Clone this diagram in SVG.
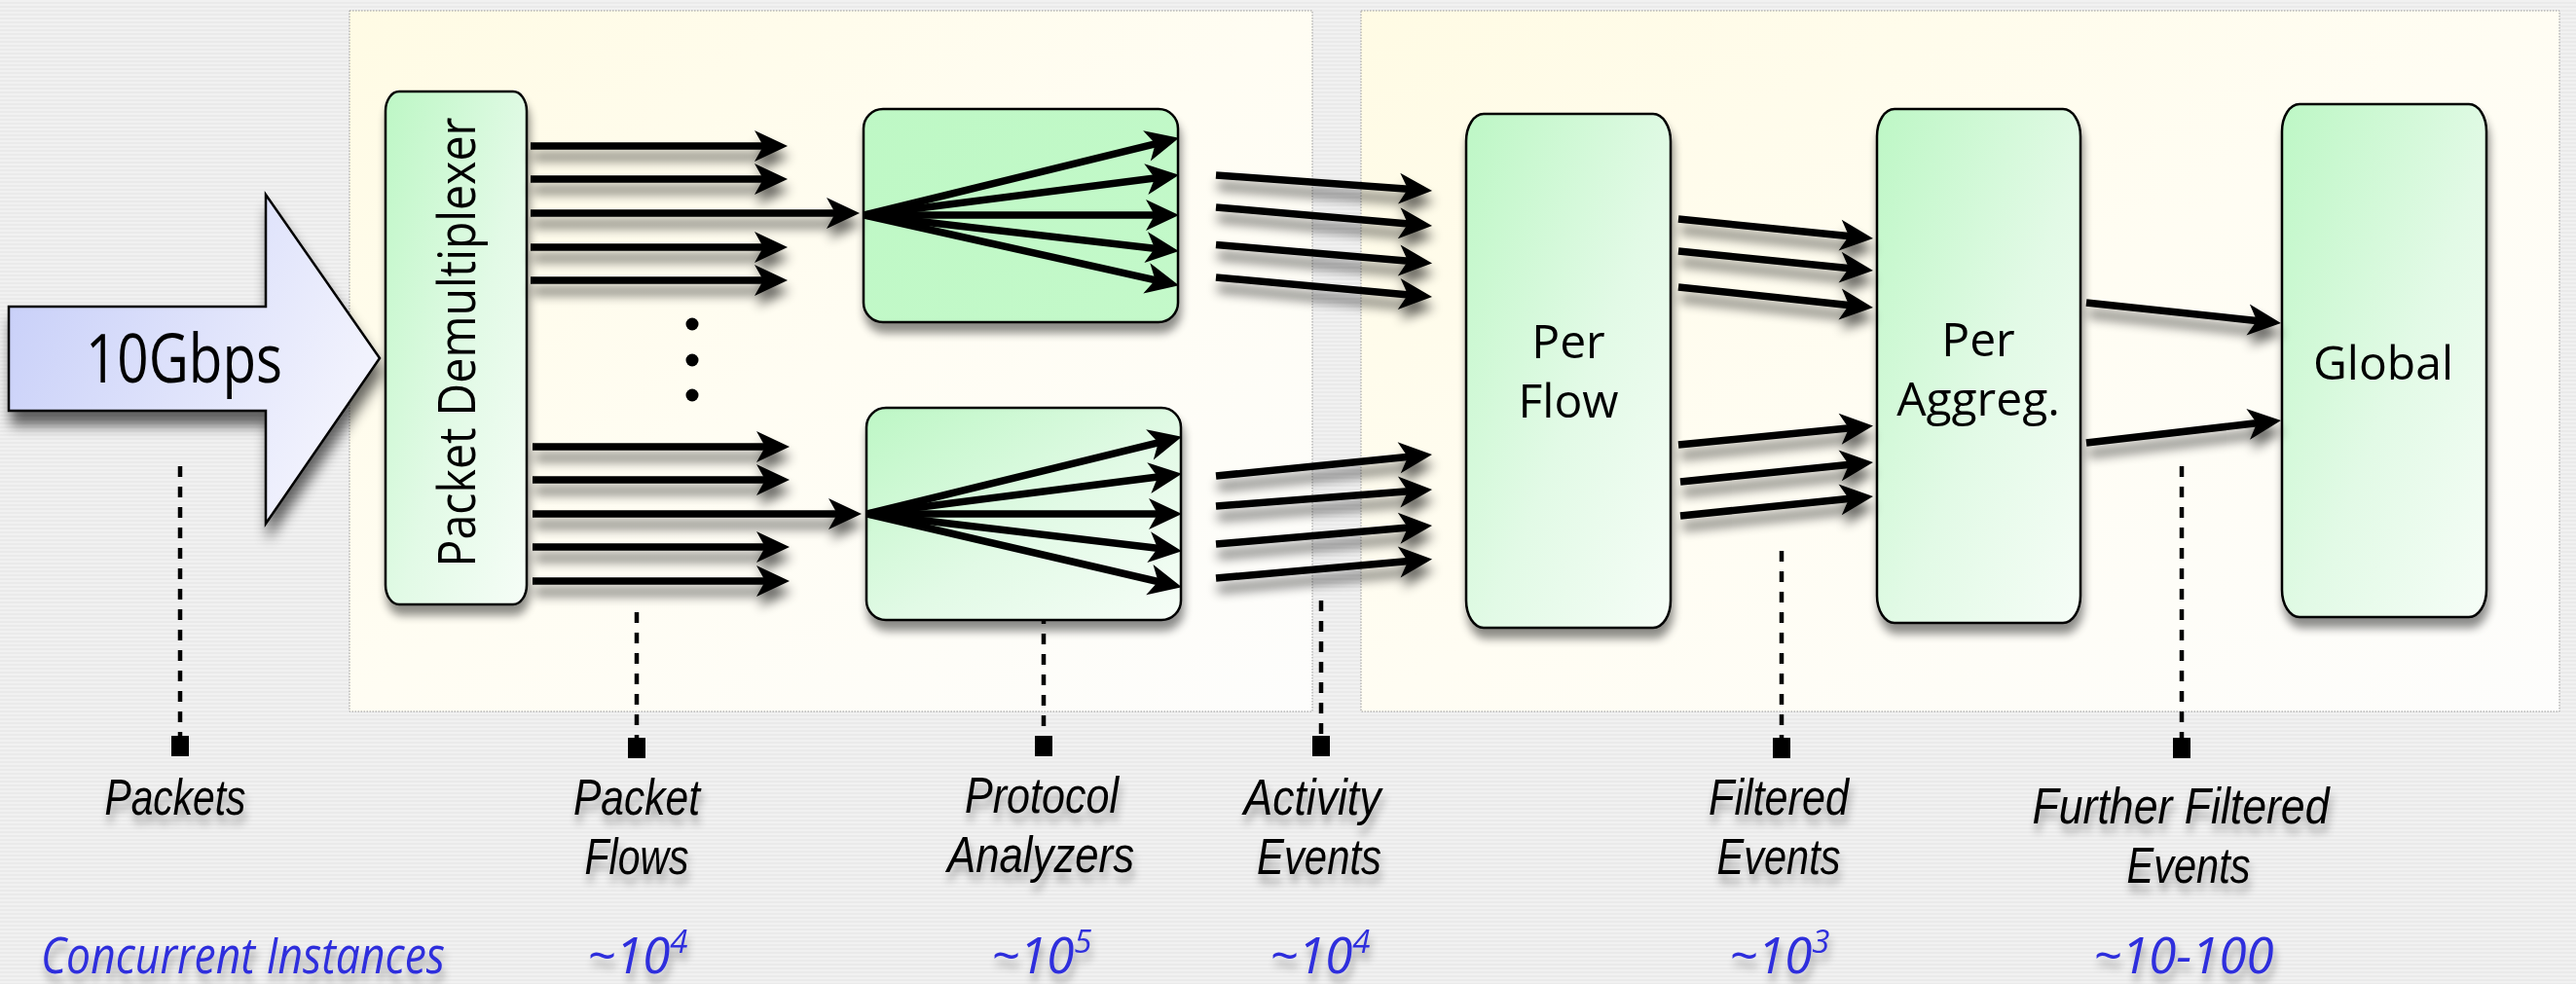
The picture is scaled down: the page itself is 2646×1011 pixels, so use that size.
<svg xmlns="http://www.w3.org/2000/svg" width="2646" height="1011" viewBox="0 0 2646 1011">
<defs>
<pattern id="stripes" width="8" height="4" patternUnits="userSpaceOnUse"><rect width="8" height="4" fill="#f1f1f1"/><rect y="2" width="8" height="2" fill="#eaeaea"/></pattern>
<linearGradient id="panelG" x1="0" y1="0" x2="1" y2="1"><stop offset="0" stop-color="#fffbe4"/><stop offset="0.5" stop-color="#fffdf3"/><stop offset="1" stop-color="#fdfdfc"/></linearGradient>
<linearGradient id="nodeG" x1="0" y1="0" x2="1" y2="1"><stop offset="0" stop-color="#bdf7c5"/><stop offset="0.55" stop-color="#e2fae6"/><stop offset="1" stop-color="#f6fdf7"/></linearGradient>
<linearGradient id="nodeG2" x1="0" y1="0" x2="1" y2="1"><stop offset="0" stop-color="#bef8c5"/><stop offset="1" stop-color="#c4f9ca"/></linearGradient>
<linearGradient id="blueG" x1="0" y1="0" x2="1" y2="0.4"><stop offset="0" stop-color="#c4ccf8"/><stop offset="1" stop-color="#f1f2fd"/></linearGradient>
<filter id="sh" x="-20%" y="-20%" width="140%" height="160%"><feGaussianBlur in="SourceAlpha" stdDeviation="5"/><feOffset dx="2" dy="10"/><feComponentTransfer><feFuncA type="linear" slope="0.45"/></feComponentTransfer><feMerge><feMergeNode/><feMergeNode in="SourceGraphic"/></feMerge></filter>
<filter id="shAr" x="-20%" y="-20%" width="140%" height="160%"><feGaussianBlur in="SourceAlpha" stdDeviation="6"/><feOffset dx="2" dy="11"/><feComponentTransfer><feFuncA type="linear" slope="0.6"/></feComponentTransfer><feMerge><feMergeNode/><feMergeNode in="SourceGraphic"/></feMerge></filter>
<filter id="shBig" x="-20%" y="-20%" width="140%" height="160%"><feGaussianBlur in="SourceAlpha" stdDeviation="7"/><feOffset dx="3" dy="14"/><feComponentTransfer><feFuncA type="linear" slope="0.6"/></feComponentTransfer><feMerge><feMergeNode/><feMergeNode in="SourceGraphic"/></feMerge></filter>
<filter id="shTxt" x="-20%" y="-30%" width="140%" height="180%"><feGaussianBlur in="SourceAlpha" stdDeviation="4"/><feOffset dx="2" dy="9"/><feComponentTransfer><feFuncA type="linear" slope="0.35"/></feComponentTransfer><feMerge><feMergeNode/><feMergeNode in="SourceGraphic"/></feMerge></filter>
<marker id="ah" markerUnits="userSpaceOnUse" orient="auto" refX="0" refY="0" markerWidth="40" markerHeight="40" overflow="visible"><path d="M21,0 L-13,-16 L-4,0 L-13,16 Z" fill="#000"/></marker>
<style>
.box{stroke:#000;stroke-width:2.5;fill:url(#nodeG)}
.nt{font-family:'Open Sans','Liberation Sans',sans-serif;font-size:48px;fill:#000;text-anchor:middle}
.lbl{font-family:'Liberation Sans',Arial,sans-serif;font-style:italic;font-size:52px;fill:#000;text-anchor:middle}
.cnt{font-family:'Open Sans','Liberation Sans',sans-serif;font-style:italic;font-size:51px;fill:#2f2fdc}
.ar{stroke:#000;stroke-width:7.5;marker-end:url(#ah);fill:none}
.dash{stroke:#000;stroke-width:4.5;stroke-dasharray:11 10}
.mk{fill:#000}
.panel{stroke:#9a9a9a;stroke-width:1;stroke-dasharray:1.5 1.5;fill:url(#panelG)}
</style>
</defs>
<rect width="2646" height="1011" fill="url(#stripes)"/>
<g id="panels">
<rect class="panel" x="359" y="11" width="989" height="720"/>
<rect class="panel" x="1398" y="11" width="1231" height="720"/>
</g>
<g id="annotations">
<line class="dash" x1="185" y1="479" x2="185" y2="756"/><rect class="mk" x="176" y="756" width="18" height="21"/>
<line class="dash" x1="654" y1="629" x2="654" y2="758"/><rect class="mk" x="645" y="758" width="18" height="21"/>
<line class="dash" x1="1072" y1="609" x2="1072" y2="756"/><rect class="mk" x="1063" y="756" width="18" height="21"/>
<line class="dash" x1="1357" y1="617" x2="1357" y2="756"/><rect class="mk" x="1348" y="756" width="18" height="21"/>
<line class="dash" x1="1830" y1="566" x2="1830" y2="758"/><rect class="mk" x="1821" y="758" width="18" height="21"/>
<line class="dash" x1="2241" y1="479" x2="2241" y2="758"/><rect class="mk" x="2232" y="758" width="18" height="21"/>
</g>
<g id="input" filter="url(#shBig)">
<polygon points="9,315 273,315 273,200 390,368 273,538 273,422 9,422" fill="url(#blueG)" stroke="#000" stroke-width="2.5"/>
<text x="189" y="393" font-family="'Open Sans','Liberation Sans',sans-serif" font-size="69" text-anchor="middle" textLength="202" lengthAdjust="spacingAndGlyphs">10Gbps</text>
</g>
<g id="demux" filter="url(#sh)">
<rect class="box" x="396" y="94" width="145" height="527" rx="14" ry="20"/>
<text transform="translate(488,351.5) rotate(-90)" x="0" y="0" font-family="'Open Sans','Liberation Sans',sans-serif" font-size="53" text-anchor="middle" textLength="462" lengthAdjust="spacingAndGlyphs">Packet Demultiplexer</text>
</g>
<g id="analyzer1" filter="url(#sh)"><rect class="box" x="887" y="112" width="323" height="219" rx="20" style="fill:url(#nodeG2)"/></g>
<g id="analyzer2" filter="url(#sh)"><rect class="box" x="890" y="419" width="323" height="218" rx="20"/></g>
<g id="perflow" filter="url(#sh)"><rect class="box" x="1506" y="117" width="210" height="528" rx="18" ry="28"/><text class="nt" x="1611" y="368">Per<tspan x="1611" dy="61">Flow</tspan></text></g>
<g id="peraggreg" filter="url(#sh)"><rect class="box" x="1928" y="112" width="209" height="528" rx="18" ry="28"/><text class="nt" x="2032" y="366">Per<tspan x="2032" dy="61">Aggreg.</tspan></text></g>
<g id="global" filter="url(#sh)"><rect class="box" x="2344" y="107" width="210" height="527" rx="18" ry="28"/><text class="nt" x="2448" y="390">Global</text></g>
<g id="dots"><circle cx="711" cy="333" r="6.5"/><circle cx="711" cy="370" r="6.5"/><circle cx="711" cy="406" r="6.5"/></g>
<g id="connectors">
<g filter="url(#shAr)">
<line class="ar" x1="545" y1="150" x2="788" y2="150"/>
<line class="ar" x1="545" y1="184" x2="788" y2="184"/>
<line class="ar" x1="545" y1="219" x2="862" y2="219"/>
<line class="ar" x1="545" y1="254" x2="788" y2="254"/>
<line class="ar" x1="545" y1="288" x2="788" y2="288"/>
<line class="ar" x1="547" y1="459" x2="790" y2="459"/>
<line class="ar" x1="547" y1="493" x2="790" y2="493"/>
<line class="ar" x1="547" y1="528" x2="864" y2="528"/>
<line class="ar" x1="547" y1="562" x2="790" y2="562"/>
<line class="ar" x1="547" y1="597" x2="790" y2="597"/>
<line class="ar" x1="1249" y1="180" x2="1450.1" y2="194.6"/>
<line class="ar" x1="1249" y1="213" x2="1450.1" y2="230.3"/>
<line class="ar" x1="1249" y1="251.5" x2="1450.1" y2="268.6"/>
<line class="ar" x1="1249" y1="285" x2="1450.1" y2="303.2"/>
<line class="ar" x1="1249" y1="489" x2="1450.1" y2="469"/>
<line class="ar" x1="1249" y1="520" x2="1450.1" y2="504.5"/>
<line class="ar" x1="1249" y1="559" x2="1450.1" y2="541.7"/>
<line class="ar" x1="1249" y1="594" x2="1450.1" y2="576.3"/>
<line class="ar" x1="1724" y1="225" x2="1903.1" y2="243"/>
<line class="ar" x1="1724" y1="258" x2="1903.1" y2="276"/>
<line class="ar" x1="1724" y1="295" x2="1903.1" y2="313.9"/>
<line class="ar" x1="1724" y1="457" x2="1903.1" y2="439.5"/>
<line class="ar" x1="1726" y1="495" x2="1903.1" y2="477"/>
<line class="ar" x1="1726" y1="530" x2="1903.1" y2="512"/>
<line class="ar" x1="2143" y1="311" x2="2322.1" y2="329.9"/>
<line class="ar" x1="2143" y1="455" x2="2322.1" y2="434.3"/>
</g>
<g>
<line class="ar" x1="888" y1="221" x2="1190.6" y2="146.8"/>
<line class="ar" x1="888" y1="221" x2="1190.2" y2="182.5"/>
<line class="ar" x1="888" y1="221" x2="1190" y2="221"/>
<line class="ar" x1="888" y1="221" x2="1190.1" y2="255.7"/>
<line class="ar" x1="888" y1="221" x2="1190.5" y2="288.6"/>
<line class="ar" x1="891" y1="528" x2="1193.6" y2="453.8"/>
<line class="ar" x1="891" y1="528" x2="1193.2" y2="489.5"/>
<line class="ar" x1="891" y1="528" x2="1193" y2="528"/>
<line class="ar" x1="891" y1="528" x2="1193.1" y2="563.7"/>
<line class="ar" x1="891" y1="528" x2="1193.5" y2="598.5"/>
</g>
</g>
<g id="labels" filter="url(#shTxt)">
<text class="lbl" x="180" y="837" textLength="145" lengthAdjust="spacingAndGlyphs">Packets</text>
<text class="lbl" x="654" y="837"><tspan x="654" textLength="130" lengthAdjust="spacingAndGlyphs">Packet</tspan><tspan x="654" dy="61" textLength="107" lengthAdjust="spacingAndGlyphs">Flows</tspan></text>
<text class="lbl" x="1070" y="835"><tspan x="1070" textLength="158" lengthAdjust="spacingAndGlyphs">Protocol</tspan><tspan x="1069" dy="61" textLength="192" lengthAdjust="spacingAndGlyphs">Analyzers</tspan></text>
<text class="lbl" x="1348" y="837"><tspan x="1348" textLength="141" lengthAdjust="spacingAndGlyphs">Activity</tspan><tspan x="1355" dy="61" textLength="128" lengthAdjust="spacingAndGlyphs">Events</tspan></text>
<text class="lbl" x="1827" y="837"><tspan x="1827" textLength="144" lengthAdjust="spacingAndGlyphs">Filtered</tspan><tspan x="1827" dy="61" textLength="127" lengthAdjust="spacingAndGlyphs">Events</tspan></text>
<text class="lbl" x="2240" y="846"><tspan x="2240" textLength="305" lengthAdjust="spacingAndGlyphs">Further Filtered</tspan><tspan x="2248" dy="61" textLength="127" lengthAdjust="spacingAndGlyphs">Events</tspan></text>
</g>
<g id="counts" filter="url(#shTxt)">
<text class="cnt" x="42" y="1000" textLength="415" lengthAdjust="spacingAndGlyphs">Concurrent Instances</text>
<text class="cnt" x="603" y="1000">~10<tspan font-size="33" dy="-21">4</tspan></text>
<text class="cnt" x="1018" y="1000">~10<tspan font-size="33" dy="-21">5</tspan></text>
<text class="cnt" x="1304" y="1000">~10<tspan font-size="33" dy="-21">4</tspan></text>
<text class="cnt" x="1776" y="1000">~10<tspan font-size="33" dy="-21">3</tspan></text>
<text class="cnt" x="2150" y="1000">~10-100</text>
</g>
</svg>
